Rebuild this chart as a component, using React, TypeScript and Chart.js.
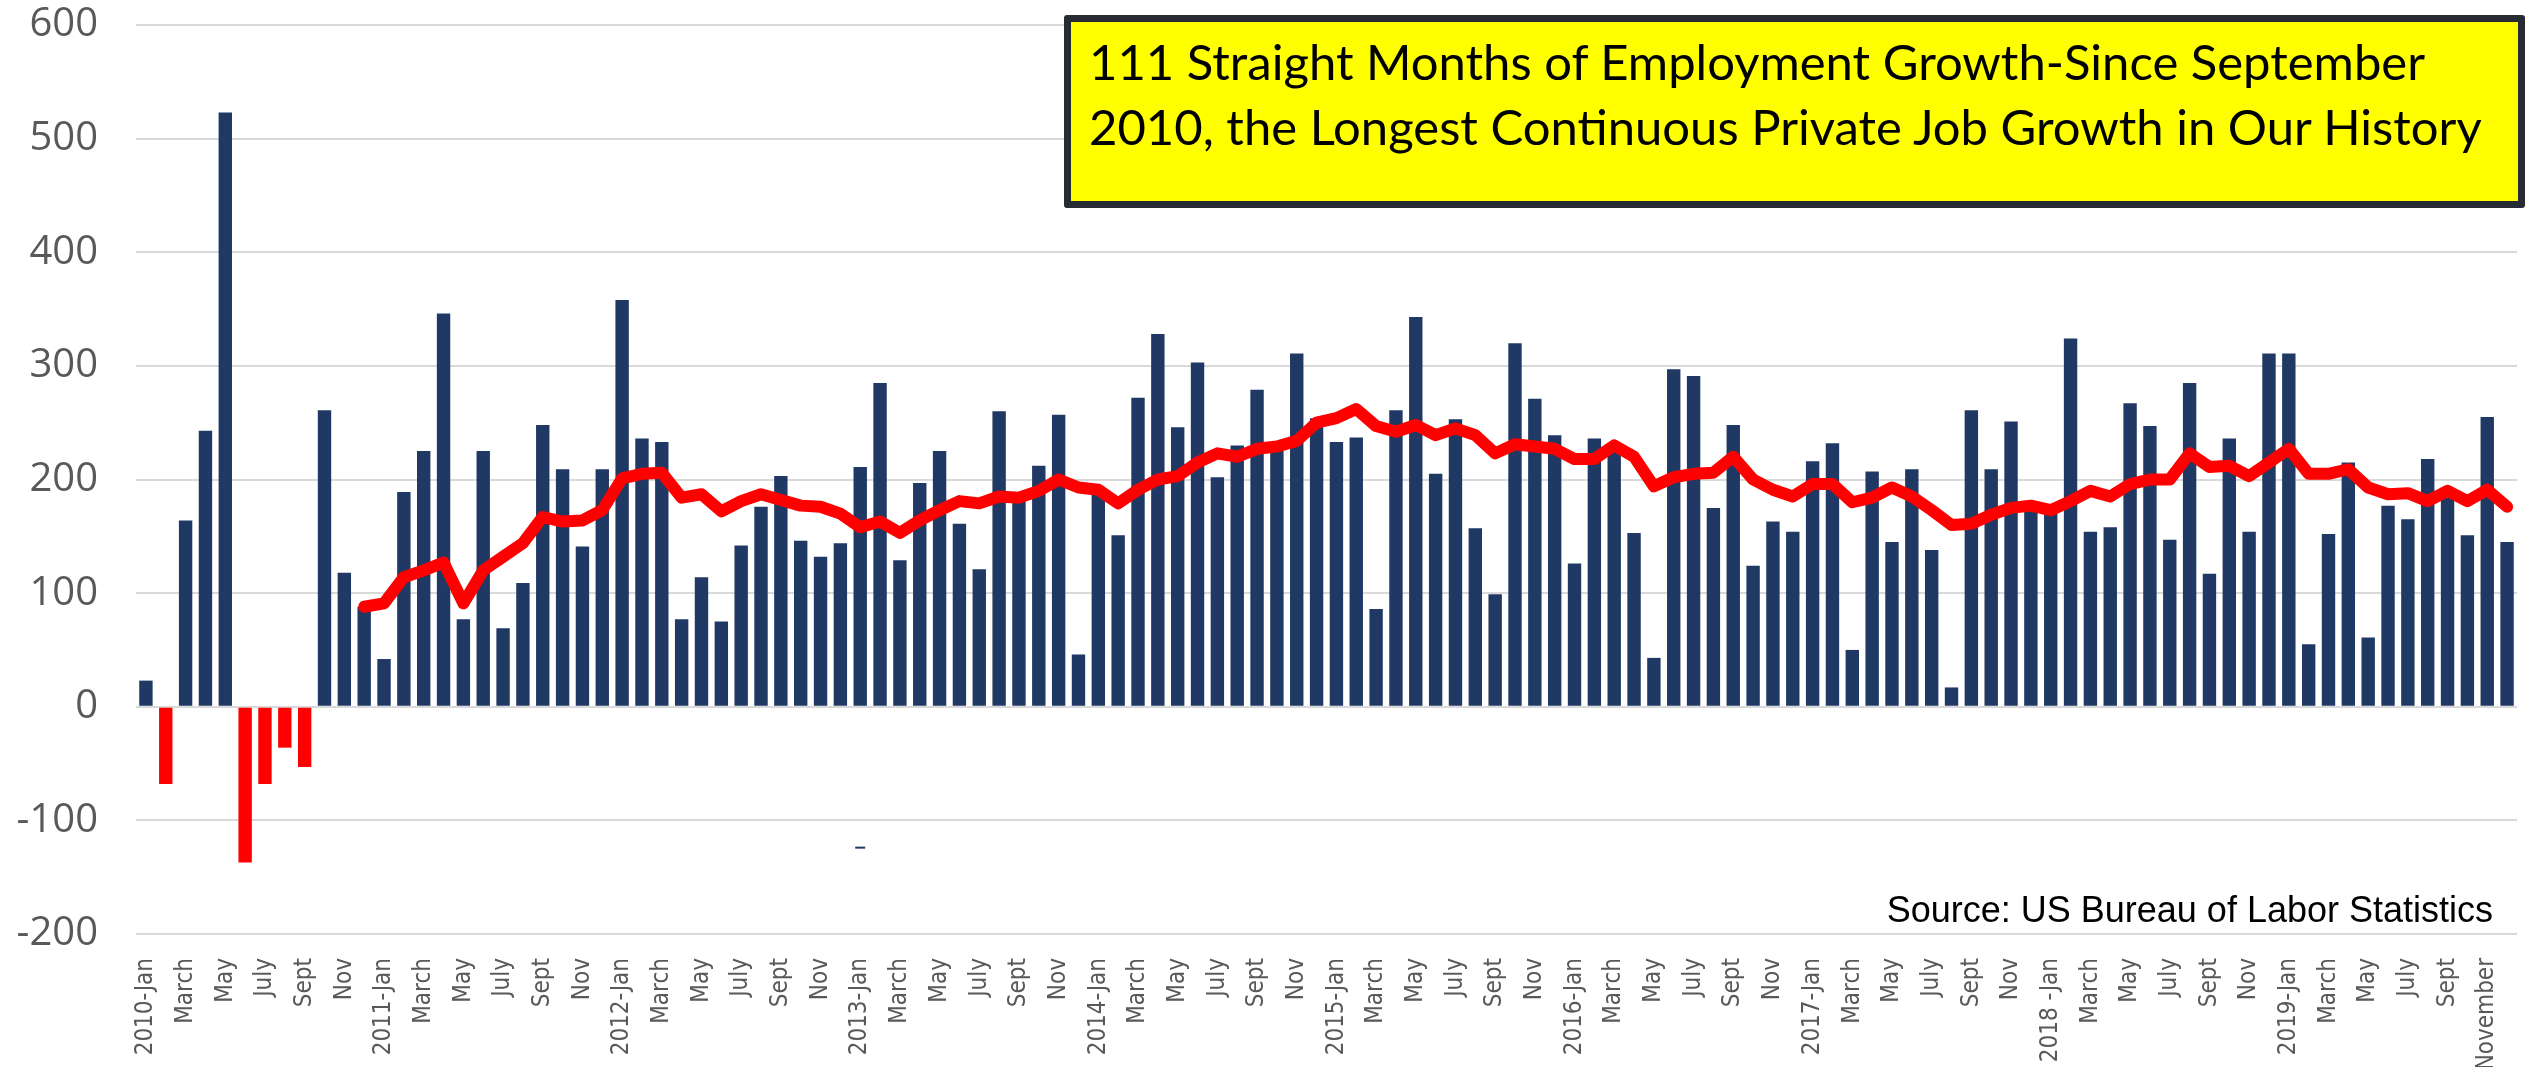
import { useEffect, useRef } from 'react';
import { Chart, registerables } from 'chart.js';

Chart.register(...registerables);

// ---- Data (thousands of private jobs added per month) ----
const years = [2010, 2011, 2012, 2013, 2014, 2015, 2016, 2017, 2018, 2019];
const monthNames = ['Jan', 'Feb', 'Mar', 'Apr', 'May', 'Jun', 'Jul', 'Aug', 'Sep', 'Oct', 'Nov', 'Dec'];
const categories = years.flatMap((y) => monthNames.map((m) => `${y} ${m}`));

const jobGains = [
  // 2010
  23, -68, 164, 243, 523, -137, -68, -36, -53, 261, 118, 88,
  // 2011
  42, 189, 225, 346, 77, 225, 69, 109, 248, 209, 141, 209,
  // 2012
  358, 236, 233, 77, 114, 75, 142, 176, 203, 146, 132, 144,
  // 2013
  211, 285, 129, 197, 225, 161, 121, 260, 185, 212, 257, 46,
  // 2014
  187, 151, 272, 328, 246, 303, 202, 230, 279, 227, 311, 254,
  // 2015
  233, 237, 86, 261, 343, 205, 253, 157, 99, 320, 271, 239,
  // 2016
  126, 236, 225, 153, 43, 297, 291, 175, 248, 124, 163, 154,
  // 2017
  216, 232, 50, 207, 145, 209, 138, 17, 261, 209, 251, 175,
  // 2018
  170, 324, 154, 158, 267, 247, 147, 285, 117, 236, 154, 311,
  // 2019
  311, 55, 152, 215, 61, 177, 165, 218, 184, 151, 255, 145,
];

const movingAverage = [
  // 2010
  null, null, null, null, null, null, null, null, null, null, null, 88,
  // 2011
  91, 114, 120, 127, 91, 120, 132, 144, 167, 163, 164, 173,
  // 2012
  201, 205, 206, 184, 187, 172, 181, 187, 182, 177, 176, 170,
  // 2013
  158, 163, 153, 164, 173, 181, 179, 185, 184, 190, 200, 193,
  // 2014
  191, 179, 191, 200, 203, 215, 223, 220, 227, 229, 234, 250,
  // 2015
  254, 262, 247, 242, 248, 239, 245, 239, 223, 231, 229, 227,
  // 2016
  218, 218, 230, 220, 194, 202, 205, 206, 220, 200, 191, 185,
  // 2017
  196, 196, 180, 184, 193, 185, 173, 160, 161, 169, 175, 177,
  // 2018
  173, 181, 190, 185, 196, 200, 200, 223, 211, 212, 203, 215,
  // 2019
  227, 205, 205, 209, 193, 187, 188, 181, 190, 181, 191, 176,
];

// small stray dash visible under 2013-Jan
const strayMarkIndex = 36;
const strayMarkValue = -124;

const tickLabels = [
  '2010-Jan', '', 'March', '', 'May', '', 'July', '', 'Sept', '', 'Nov', '',
  '2011-Jan', '', 'March', '', 'May', '', 'July', '', 'Sept', '', 'Nov', '',
  '2012-Jan', '', 'March', '', 'May', '', 'July', '', 'Sept', '', 'Nov', '',
  '2013-Jan', '', 'March', '', 'May', '', 'July', '', 'Sept', '', 'Nov', '',
  '2014-Jan', '', 'March', '', 'May', '', 'July', '', 'Sept', '', 'Nov', '',
  '2015-Jan', '', 'March', '', 'May', '', 'July', '', 'Sept', '', 'Nov', '',
  '2016-Jan', '', 'March', '', 'May', '', 'July', '', 'Sept', '', 'Nov', '',
  '2017-Jan', '', 'March', '', 'May', '', 'July', '', 'Sept', '', 'Nov', '',
  '2018 -Jan', '', 'March', '', 'May', '', 'July', '', 'Sept', '', 'Nov', '',
  '2019-Jan', '', 'March', '', 'May', '', 'July', '', 'Sept', '', 'November', '',
];

const yMin = -200;
const yMax = 600;
const yStep = 100;

const titleLines = [
  '111 Straight Months of Employment Growth-Since September',
  '2010, the Longest Continuous Private Job Growth in Our History',
];
const sourceText = 'Source: US Bureau of Labor Statistics';

const NAVY = '#203864';
const RED = '#FF0000';

export default function App() {
  const canvasRef = useRef<HTMLCanvasElement>(null);

  useEffect(() => {
    if (!canvasRef.current) return;
    const strayData = categories.map((_, i) => (i === strayMarkIndex ? strayMarkValue : null));
    const chart = new Chart(canvasRef.current, {
      type: 'bar',
      data: {
        labels: categories,
        datasets: [
          {
            type: 'line',
            data: movingAverage as any,
            borderColor: RED,
            backgroundColor: RED,
            borderWidth: 12,
            pointRadius: 0,
            borderCapStyle: 'round',
            borderJoinStyle: 'round',
            tension: 0,
            order: 0,
          } as any,
          {
            type: 'line',
            data: strayData as any,
            showLine: false,
            pointStyle: 'line',
            pointRadius: 5,
            pointBorderWidth: 2,
            borderColor: NAVY,
            backgroundColor: NAVY,
            order: 1,
          } as any,
          {
            type: 'bar',
            data: jobGains,
            backgroundColor: jobGains.map((v) => (v < 0 ? RED : NAVY)),
            barPercentage: 0.675,
            categoryPercentage: 1,
            order: 2,
          },
        ],
      },
      options: {
        responsive: true,
        maintainAspectRatio: false,
        animation: false,
        layout: { padding: { left: 0, right: 12, top: 25, bottom: 0 } },
        plugins: {
          legend: { display: false },
          tooltip: { enabled: false },
        },
        scales: {
          x: {
            grid: { display: false },
            border: { display: false },
            ticks: {
              autoSkip: false,
              maxRotation: 90,
              minRotation: 90,
              padding: 16,
              color: '#595959',
              font: { family: "'DejaVu Sans Condensed', sans-serif", size: 24 },
              callback: (_v: any, i: number) => tickLabels[i],
            },
            afterFit: (scale: any) => {
              scale.height = 133;
              scale.paddingLeft = 0;
              scale.paddingRight = 0;
            },
          },
          y: {
            min: yMin,
            max: yMax,
            border: { display: false },
            grid: { color: '#D9D9D9', lineWidth: 2, drawTicks: false },
            ticks: {
              stepSize: yStep,
              padding: 38,
              color: '#595959',
              font: { family: "'Open Sans', sans-serif", size: 40 },
            },
            afterFit: (scale: any) => {
              scale.width = 136;
              scale.paddingTop = 0;
              scale.paddingBottom = 0;
            },
          },
        },
      },
    });
    return () => chart.destroy();
  }, []);

  return (
    <div style={{ position: 'fixed', left: 0, top: 0, width: 2529, height: 1067, background: '#ffffff', overflow: 'hidden' }}>
      <div style={{ position: 'absolute', left: 0, top: 0, width: 2529, height: 1067 }}>
        <canvas ref={canvasRef} />
      </div>
      <div
        style={{
          position: 'absolute',
          left: 1064,
          top: 15,
          width: 2525 - 1064,
          height: 208 - 15,
          boxSizing: 'border-box',
          border: '7px solid #272B33',
          borderRadius: 3,
          background: '#FFFF00',
          color: '#000000',
          fontFamily: "Lato, 'Open Sans', sans-serif",
          fontSize: 49,
          lineHeight: '65px',
          paddingLeft: 18,
          paddingTop: 7,
          whiteSpace: 'nowrap',
        }}
      >
        {titleLines.map((t, i) => (
          <div key={i}>{t}</div>
        ))}
      </div>
      <div
        style={{
          position: 'absolute',
          right: 2529 - 2493,
          top: 889,
          fontFamily: "'Liberation Sans', Arial, sans-serif",
          fontSize: 36,
          lineHeight: 'normal',
          color: '#000000',
          whiteSpace: 'nowrap',
        }}
      >
        {sourceText}
      </div>
    </div>
  );
}
